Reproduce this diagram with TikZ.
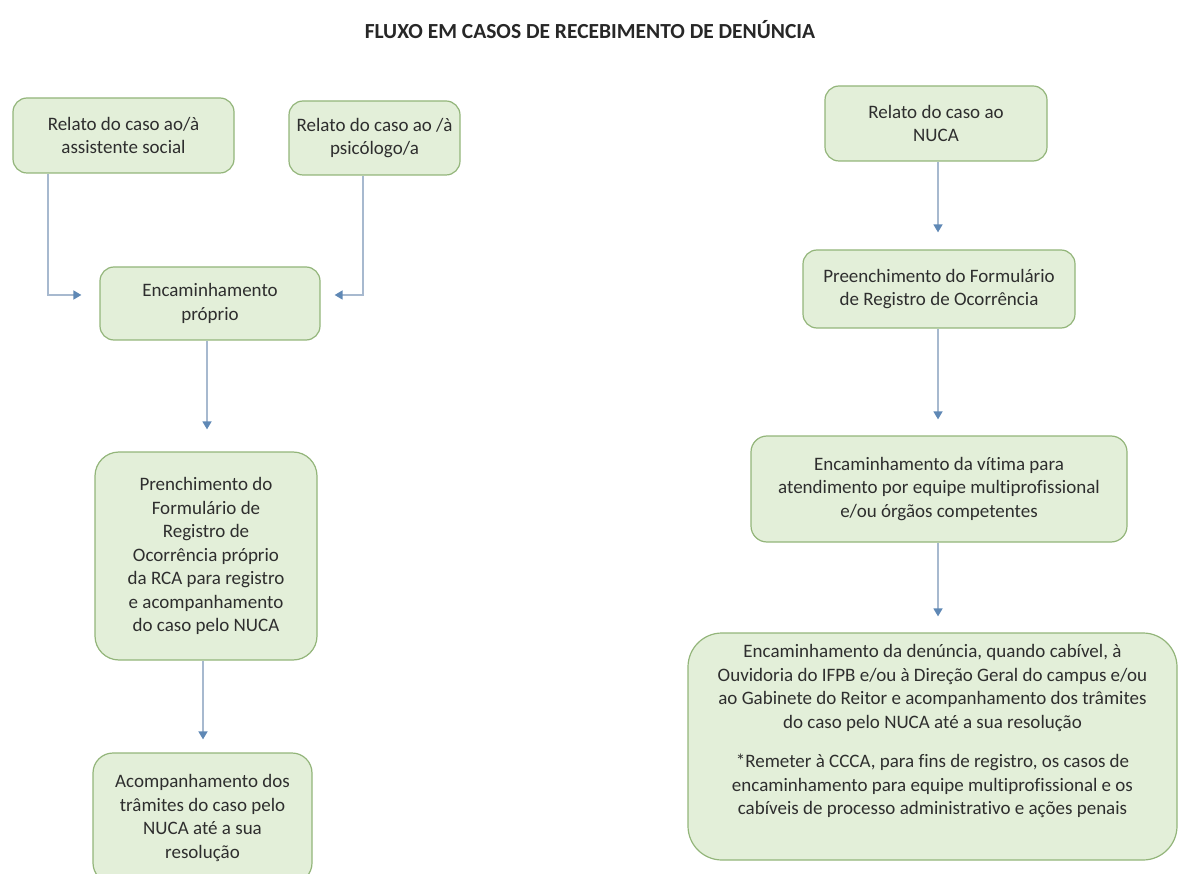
\documentclass[tikz,border=0pt]{standalone}
\usepackage{fontspec}
\setmainfont{Carlito}[Ligatures=CommonOff]
\usetikzlibrary{arrows.meta}

\definecolor{boxfill}{HTML}{E3EFD9}
\definecolor{boxdraw}{HTML}{93B57A}
\definecolor{linkline}{HTML}{A7B9CF}
\definecolor{linktip}{HTML}{5F88B5}
\definecolor{ink}{HTML}{2E2E2E}

\begin{document}
\begin{tikzpicture}[x=1pt,y=-1pt,
  stage/.style={draw=boxdraw, fill=boxfill, line width=1.2pt,
    rounded corners=#1, text=ink, align=center, inner sep=0pt,
    font=\fontsize{19}{23.5}\selectfont},
  stage/.default=14pt,
  flow/.style={draw=linkline, line width=1.5pt,
    -{Triangle[width=9pt,length=8pt,color=linktip]}}]

\useasboundingbox (0,0) rectangle (1178,874);
\clip (0,0) rectangle (1178,874);

% heading
\node[text=ink!85!black, font=\fontsize{21.5}{25}\selectfont\bfseries] (title)
  at (590,30) {FLUXO EM CASOS DE RECEBIMENTO DE DENÚNCIA};

% left column
\node[stage, minimum width=221pt, minimum height=75pt] (A) at (123.5,135.5)
  {Relato do caso ao/à\\assistente social};
\node[stage, minimum width=171pt, minimum height=74pt] (B) at (374.5,138)
  {Relato do caso ao /à\\psicólogo/a};
\node[stage, minimum width=220pt, minimum height=73pt] (C) at (210,303.5)
  {Encaminhamento\\próprio};
\node[stage=24pt, minimum width=222pt, minimum height=208pt] (D) at (206,556)
  {Prenchimento do\\Formulário de\\Registro de\\Ocorrência próprio\\da RCA para registro\\e acompanhamento\\do caso pelo NUCA};
\node[stage=20pt, minimum width=219pt, minimum height=130pt] (E) at (202.5,818)
  {Acompanhamento dos\\trâmites do caso pelo\\NUCA até a sua\\resolução};

% right column
\node[stage, minimum width=222pt, minimum height=75pt] (F) at (936,123.5)
  {Relato do caso ao\\NUCA};
\node[stage, minimum width=272pt, minimum height=78pt] (G) at (939,289)
  {Preenchimento do Formulário\\de Registro de Ocorrência};
\node[stage=16pt, minimum width=376pt, minimum height=106pt] (H) at (939,489)
  {Encaminhamento da vítima para\\atendimento por equipe multiprofissional\\e/ou órgãos competentes};
\node[stage=34pt, minimum width=489pt, minimum height=227pt] (I) at (932.5,746.5) {};
\node[text=ink, align=center, font=\fontsize{19}{23.5}\selectfont] (Itext) at (932.5,731)
  {Encaminhamento da denúncia, quando cabível, à\\
   Ouvidoria do IFPB e/ou à Direção Geral do campus e/ou\\
   ao Gabinete do Reitor e acompanhamento dos trâmites\\
   do caso pelo NUCA até a sua resolução\\[16pt]
   *Remeter à CCCA, para fins de registro, os casos de\\
   encaminhamento para equipe multiprofissional e os\\
   cabíveis de processo administrativo e ações penais};

% connectors
\draw[flow, shorten >=18pt] ([xshift=-75.5pt]A.south) |- ([yshift=8.5pt]C.west);
\draw[flow, shorten >=14pt] ([xshift=-11.5pt]B.south) |- ([yshift=8.5pt]C.east);
\draw[flow, shorten >=22pt] ([xshift=-3pt]C.south) -- ([xshift=-3pt]C.south |- D.north);
\draw[flow, shorten >=13pt] ([xshift=-3pt]D.south) -- ([xshift=-3pt]D.south |- E.north);
\draw[flow, shorten >=17pt] ([xshift=2pt]F.south) -- ([xshift=2pt]F.south |- G.north);
\draw[flow, shorten >=16pt] ([xshift=-1pt]G.south) -- ([xshift=-1pt]G.south |- H.north);
\draw[flow, shorten >=16pt] ([xshift=-1pt]H.south) -- ([xshift=-1pt]H.south |- I.north);
\end{tikzpicture}
\end{document}
